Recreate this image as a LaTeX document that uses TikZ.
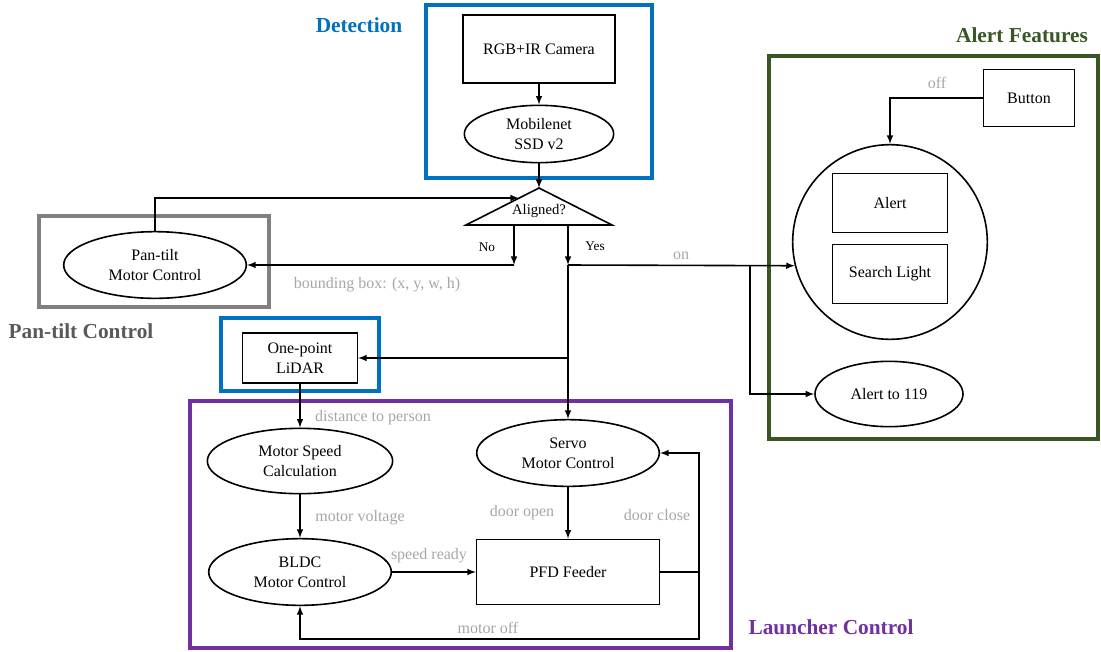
\documentclass[tikz,border=0pt]{standalone}
\usepackage{fontspec}
\setmainfont{Liberation Serif}
\usetikzlibrary{shapes.geometric}
\definecolor{detblue}{RGB}{0,112,192}
\definecolor{alertgreen}{RGB}{56,87,35}
\definecolor{launchpurple}{RGB}{112,48,160}
\definecolor{pangray}{RGB}{128,128,128}
\definecolor{titlegray}{RGB}{89,89,89}
\definecolor{notegray}{RGB}{166,166,166}
\tikzset{
  txt/.style={font=\fontsize{12}{15}\selectfont, align=center},
  smalltxt/.style={font=\fontsize{10}{12}\selectfont},
  block/.style={txt, draw, line width=1.2pt, rectangle, inner sep=0pt},
  oval/.style={txt, draw, line width=1.2pt, ellipse, inner sep=0pt},
  note/.style={font=\fontsize{12}{15}\selectfont, text=notegray},
  grouptitle/.style={font=\fontsize{16}{19}\selectfont\bfseries},
  groupframe/.style={line width=2.4pt},
  flow/.style={line width=1.2pt, -latex},
}
\begin{document}
\begin{tikzpicture}[x=0.75pt,y=-0.75pt]
          \useasboundingbox (0,0) rectangle (1101,651);

          \draw[groupframe, detblue] (426,5) rectangle (652,178);
          \draw[groupframe, pangray] (39,216) rectangle (269,307);
          \draw[groupframe, detblue] (221,318) rectangle (379,391);
          \draw[groupframe, launchpurple] (190,401) rectangle (731,648);
          \draw[groupframe, alertgreen] (769,56) rectangle (1098,439);

          \node[grouptitle, text=detblue] (dettitle) at (359,25) {Detection};
          \node[grouptitle, text=titlegray] (pantitle) at (81,331) {Pan-tilt Control};
          \node[grouptitle, text=alertgreen] (alerttitle) at (1022,35) {Alert Features};
          \node[grouptitle, text=launchpurple] (launchtitle) at (831,627) {Launcher Control};

          \node[block, minimum width=114pt, minimum height=51pt] (camera) at (539,49) {RGB+IR Camera};
          \node[oval, minimum width=112pt, minimum height=43pt] (mobilenet) at (539,134) {Mobilenet\\SSD v2};
          \coordinate (tritop) at (539,188);
          \coordinate (trileft) at (466,225);
          \coordinate (triright) at (612,225);
          \draw[line width=1.2pt] (tritop) -- (trileft) -- (triright) -- cycle;
          \node[txt, font=\fontsize{11}{13}\selectfont] (aligned) at (539,211) {Aligned?};

          \node[oval, minimum width=137pt, minimum height=50pt] (pantilt) at (155,265) {Pan-tilt\\Motor Control};
          \node[block, minimum width=86pt, minimum height=37.5pt] (lidar) at (300,358) {One-point\\LiDAR};
          \node[oval, minimum width=139pt, minimum height=49pt] (speedcalc) at (300,461) {Motor Speed\\Calculation};
          \node[oval, minimum width=137pt, minimum height=50pt] (bldc) at (300,572) {BLDC\\Motor Control};
          \node[oval, minimum width=137pt, minimum height=50pt] (servo) at (568,453) {Servo\\Motor Control};
          \node[block, minimum width=137pt, minimum height=49pt] (feeder) at (568,572) {PFD Feeder};

          \node[block, minimum width=68pt, minimum height=43pt] (button) at (1029,98) {Button};
          \node[circle, draw, line width=1.2pt, minimum size=146pt, inner sep=0pt] (alertgrp) at (890,242) {};
          \node[block, minimum width=86pt, minimum height=44pt] (alert) at (890,203) {Alert};
          \node[block, minimum width=86pt, minimum height=44pt] (searchlight) at (890,274) {Search Light};
          \node[oval, minimum width=111pt, minimum height=49pt] (call119) at (889,394) {Alert to 119};

          \node[note] (bboxnote) at (377,285) {bounding box: (x, y, w, h)};
          \node[smalltxt] (nolabel) at (487,247) {No};
          \node[smalltxt] (yeslabel) at (595,246) {Yes};
          \node[note] (onnote) at (681,256) {on};
          \node[note] (offnote) at (937,83) {off};
          \node[note] (distnote) at (373,418) {distance to person};
          \node[note] (voltnote) at (360,518) {motor voltage};
          \node[note] (opennote) at (522,513) {door open};
          \node[note] (closenote) at (657,515) {door close};
          \node[note] (readynote) at (429,556) {speed ready};
          \node[note] (offmotornote) at (488,628) {motor off};

          \coordinate (trientry) at (519,198);
          \coordinate (nostart) at (514,225);
          \coordinate (nopoint) at (514,265);
          \coordinate (yesstart) at (568,225);
          \coordinate (yespoint) at (568,265);
          \coordinate (split) at (750,265);
          \coordinate (tap) at (568,358);
          \coordinate (loopright) at (699,572);
          \coordinate (loopbottom) at (699,639);

          \draw[flow] (camera) -- (mobilenet);
          \draw[flow] (mobilenet) -- (tritop);
          \draw[flow] (pantilt.north) |- (trientry);
          \draw[flow] (nostart) -- (nopoint);
          \draw[flow] (nopoint) -- (pantilt);
          \draw[flow] (yesstart) -- (yespoint);
          \draw[flow] (yespoint) -- (alertgrp.194);
          \draw[flow] (split) |- (call119);
          \draw[flow] (yespoint) -- (servo);
          \draw[flow] (tap) -- (lidar);
          \draw[flow] (lidar) -- (speedcalc);
          \draw[flow] (speedcalc) -- (bldc);
          \draw[flow] (bldc) -- (feeder);
          \draw[flow] (servo) -- (feeder);
          \draw[line width=1.2pt] (feeder) -- (loopright);
          \draw[flow] (loopright) |- (servo);
          \draw[flow] (loopright) -- (loopbottom) -| (bldc);
          \draw[flow] (button) -| (alertgrp);
\end{tikzpicture}
\end{document}
